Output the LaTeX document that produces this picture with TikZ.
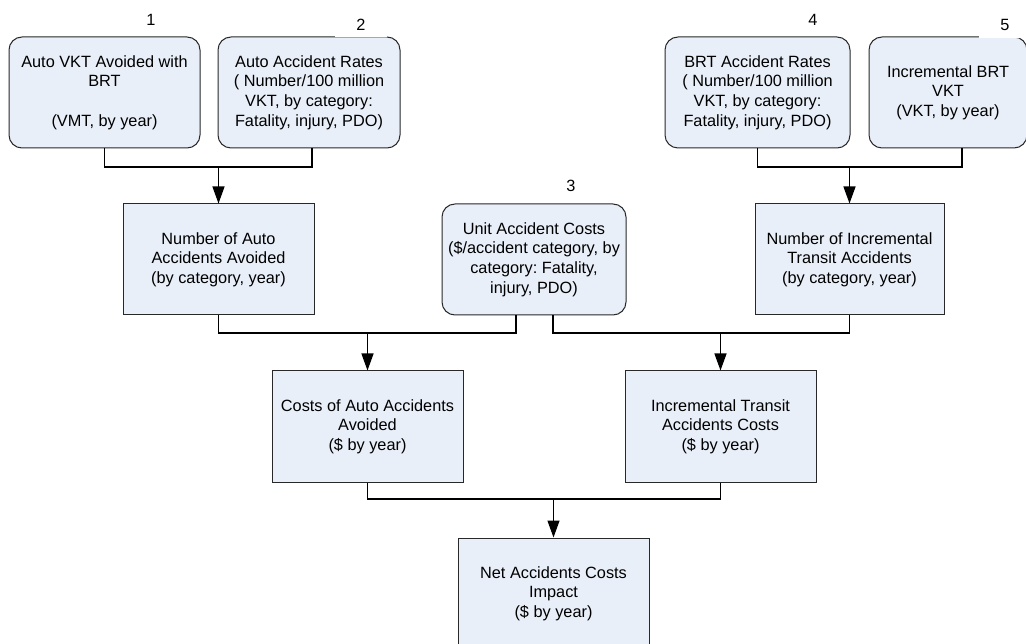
\documentclass[tikz,border=0pt]{standalone}
\usepackage{fontspec}
\setmainfont{Liberation Sans}
\frenchspacing
\usetikzlibrary{arrows.meta}
\definecolor{boxfill}{RGB}{233,239,248}
\definecolor{boxline}{RGB}{40,40,40}
\begin{document}
\begin{tikzpicture}[x=1pt,y=-1pt,
  every node/.style={font=\fontsize{16.3}{19.6}\selectfont, align=center, inner sep=0pt},
  basebox/.style={draw=boxline, line width=1pt, fill=boxfill, minimum height=111pt},
  rbox/.style={basebox, rounded corners=13pt},
  sbox/.style={basebox},
  conn/.style={draw=black, line width=1.3pt},
  arr/.style={conn, -{Triangle[length=17pt,width=12pt]}},
  numlabel/.style={},
  numcover/.style={fill=white, minimum width=52pt, minimum height=26pt}
]
\useasboundingbox (0,0) rectangle (1026,644);
\clip (0,0) rectangle (1026,644);

% top row
\node[rbox, minimum width=191pt] (n1) at (104.5,92.5) {Auto VKT Avoided with\\BRT\\[19.6pt](VMT, by year)};
\node[rbox, minimum width=182pt] (n2) at (309,92.5) {Auto Accident Rates\\( Number/100 million\\VKT, by category:\\Fatality, injury, PDO)};
\node[rbox, minimum width=185pt] (n4) at (757.5,92.5) {BRT Accident Rates\\( Number/100 million\\VKT, by category:\\Fatality, injury, PDO)};
\node[rbox, minimum width=158pt] (n5) at (948,92.5) {Incremental BRT\\VKT\\(VKT, by year)};

% second row
\node[sbox, minimum width=191pt] (nA) at (218.5,259.5) {Number of Auto\\Accidents Avoided\\(by category, year)};
\node[rbox, minimum width=184pt] (n3) at (534,259.5) {Unit Accident Costs\\(\$/accident category, by\\category: Fatality,\\injury, PDO)};
\node[sbox, minimum width=189pt] (nB) at (849.5,259.5) {Number of Incremental\\Transit Accidents\\(by category, year)};

% third row
\node[sbox, minimum width=191pt] (nC) at (367.5,426.5) {Costs of Auto Accidents\\Avoided\\(\$ by year)};
\node[sbox, minimum width=191pt] (nD) at (720.5,426.5) {Incremental Transit\\Accidents Costs\\(\$ by year)};

% bottom
\node[sbox, minimum width=191pt] (nN) at (553.5,593.5) {Net Accidents Costs\\Impact\\(\$ by year)};

% number labels
\node[numlabel] (l1) at (151,20) {1};
\node[numcover] (l2) at (361,24.5) {2};
\node[numlabel] (l3) at (571,186) {3};
\node[numlabel] (l4) at (813,20) {4};
\node[numcover] (l5) at (1005,25) {5};

% connectors
\coordinate (j1) at (218.5,167);
\coordinate (j2) at (849.5,167);
\coordinate (j3) at (367.5,333);
\coordinate (j4) at (720.5,333);
\coordinate (j5) at (553.5,499);

\draw[conn] (n1.south) |- (j1) -| ([xshift=3pt]n2.south);
\draw[arr] (j1) -- (nA.north);

\draw[conn] (n4.south) |- (j2) -| ([xshift=14pt]n5.south);
\draw[arr] (j2) -- (nB.north);

\draw[conn] (nA.south) |- (j3) -| ([xshift=-18pt]n3.south);
\draw[arr] (j3) -- (nC.north);

\draw[conn] ([xshift=19pt]n3.south) |- (j4) -| (nB.south);
\draw[arr] (j4) -- (nD.north);

\draw[conn] (nC.south) |- (j5) -| (nD.south);
\draw[arr] (j5) -- (nN.north);
\end{tikzpicture}
\end{document}
